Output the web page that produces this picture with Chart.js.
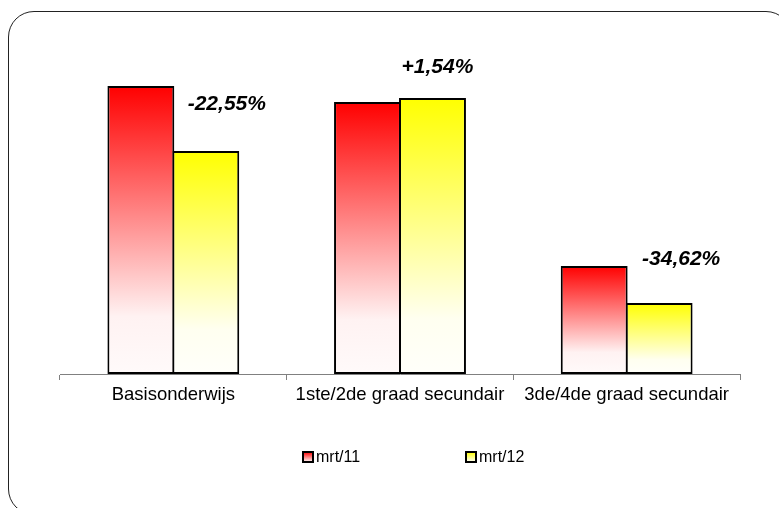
<!DOCTYPE html>
<html>
<head>
<meta charset="utf-8">
<script src="https://cdn.jsdelivr.net/npm/chart.js@4"></script>
<style>
  body { margin: 0; background: #fff; overflow: hidden; }
  #wrap { position: relative; width: 779px; height: 508px; overflow: hidden; }
  #frame {
    position: absolute; left: 8px; top: 11px; width: 784px; height: 504px;
    border: 1px solid #222; border-radius: 26px; box-sizing: border-box;
  }
  #myChart { position: absolute; left: 0; top: 0; }
</style>
</head>
<body>
<div id="wrap">
  <div id="frame"></div>
  <canvas id="myChart" width="779" height="508"></canvas>
</div>
<script>
var categories = ["Basisonderwijs", "1ste/2de graad secundair", "3de/4de graad secundair"];
var seriesNames = ["mrt/11", "mrt/12"];
var values2011 = [288, 272, 108];
var values2012 = [223, 276, 71];
var changeLabels = ["-22,55%", "+1,54%", "-34,62%"];

// placement of the change labels, relative to the mrt/12 bar (px)
var labelDx = [21, 5, 22];
var labelDy = [18, -31, -7];

var topColors = ["#ff0000", "#ffff00"];
var fadeColors = ["#fff2f2", "#fffff0"];
var bottomColors = ["#fffafa", "#fffffa"];

function barFill(context) {
  var chart = context.chart;
  var i = context.datasetIndex;
  if (!chart.chartArea || !context.parsed) return topColors[i];
  var y = chart.scales.y;
  var top = y.getPixelForValue(context.parsed.y);
  var bottom = y.getPixelForValue(0);
  var g = chart.ctx.createLinearGradient(0, top, 0, bottom);
  g.addColorStop(0, topColors[i]);
  g.addColorStop(0.8, fadeColors[i]); // almost white from here down
  g.addColorStop(1, bottomColors[i]);
  return g;
}

// percentage labels above each group
var changePlugin = {
  id: "changeLabels",
  afterDatasetsDraw: function (chart) {
    var ctx = chart.ctx;
    var m1 = chart.getDatasetMeta(0).data;
    var m2 = chart.getDatasetMeta(1).data;
    ctx.save();
    ctx.font = "italic bold 21px 'Liberation Sans', Arial, sans-serif";
    ctx.fillStyle = "#000";
    ctx.textAlign = "center";
    ctx.textBaseline = "middle";
    changeLabels.forEach(function (txt, i) {
      var topY = Math.min(m1[i].y, m2[i].y);
      ctx.fillText(txt, m2[i].x + labelDx[i], topY + labelDy[i]);
    });
    ctx.restore();
  }
};

// legend drawn by hand to match the spacing of the original
var legendPlugin = {
  id: "handLegend",
  afterDraw: function (chart) {
    var ctx = chart.ctx;
    var area = chart.chartArea;
    var xs = [area.left + 243, area.left + 406];
    var yc = area.bottom + 83;
    ctx.save();
    ctx.font = "16px 'Liberation Sans', Arial, sans-serif";
    ctx.textBaseline = "middle";
    chart.data.datasets.forEach(function (ds, i) {
      var g = ctx.createLinearGradient(0, yc - 5, 0, yc + 5);
      g.addColorStop(0, topColors[i]);
      g.addColorStop(1, "#ffffff");
      ctx.fillStyle = g;
      ctx.fillRect(xs[i], yc - 5, 10, 10);
      ctx.lineWidth = 2;
      ctx.strokeStyle = "#000";
      ctx.strokeRect(xs[i], yc - 5, 10, 10);
      ctx.fillStyle = "#000";
      ctx.fillText(ds.label, xs[i] + 13, yc + 1);
    });
    ctx.restore();
  }
};

new Chart("myChart", {
  type: "bar",
  data: {
    labels: categories,
    datasets: [{
      label: seriesNames[0],
      data: values2011,
      backgroundColor: barFill,
      borderColor: "#000",
      borderWidth: 2,
      borderSkipped: false
    }, {
      label: seriesNames[1],
      data: values2012,
      backgroundColor: barFill,
      borderColor: "#000",
      borderWidth: 2,
      borderSkipped: false
    }]
  },
  options: {
    responsive: false,
    animation: false,
    layout: { padding: { left: 60, right: 39, top: 74, bottom: 94 } },
    // bars slightly wider than their slot so neighbours share one outline
    datasets: { bar: { barPercentage: 1.03, categoryPercentage: 0.573 } },
    plugins: {
      legend: { display: false },
      tooltip: { enabled: false }
    },
    scales: {
      x: {
        afterFit: function (scale) { scale.height = 40; },
        grid: { offset: true, drawOnChartArea: false, tickLength: 6, color: "#808080" },
        border: { color: "#808080", width: 1 },
        ticks: {
          color: "#000",
          padding: 4,
          font: { family: "'Liberation Sans', Arial, sans-serif", size: 18.5 }
        }
      },
      y: { display: false, min: 0, max: 300 }
    }
  },
  plugins: [changePlugin, legendPlugin]
});
</script>
</body>
</html>
